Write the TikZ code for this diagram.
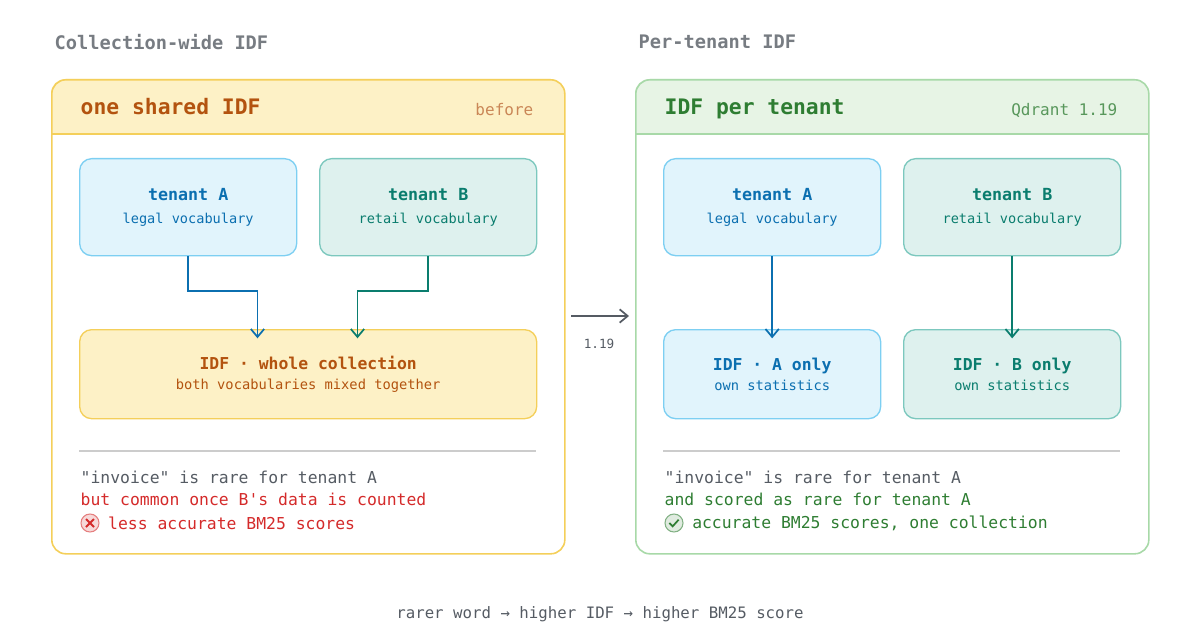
\documentclass[tikz,border=0pt]{standalone}
\usepackage{fontspec}
\setmainfont{DejaVu Sans Mono}[Ligatures=TeXOff]
\usetikzlibrary{positioning, arrows.meta}
\definecolor{yelline}{HTML}{F4CF5A}
\definecolor{yelfill}{HTML}{FDF1C6}
\definecolor{idfbrown}{HTML}{B3530F}
\definecolor{grnline}{HTML}{A8D9A8}
\definecolor{grnfill}{HTML}{E7F4E5}
\definecolor{grntext}{HTML}{2E7D32}
\definecolor{bluline}{HTML}{7DCFF2}
\definecolor{blufill}{HTML}{E1F4FC}
\definecolor{blutext}{HTML}{0B6FB0}
\definecolor{tealline}{HTML}{7CC8BE}
\definecolor{tealfill}{HTML}{DEF1EE}
\definecolor{tealtext}{HTML}{0A7D6E}
\definecolor{graytext}{HTML}{555B63}
\definecolor{redtext}{HTML}{D42A2A}
\tikzset{
    panel/.style = {draw, line width=1.2pt, rounded corners=10.5pt, minimum width=384.75pt, minimum height=355.5pt},
    box/.style = {draw, line width=1pt, rounded corners=9pt, minimum width=162.75pt, minimum height=72.75pt, align=center},
    wide/.style = {box, minimum width=342.75pt, minimum height=66.75pt},
    head/.style = {anchor=base west, font=\fontsize{16}{18}\selectfont\bfseries},
    note/.style = {anchor=west, font=\fontsize{12.3}{14}\selectfont},
    line/.style = {-{Straight Barb[length=6pt, width=10pt]}, line width=1.3pt}
}
\newcommand{\boxtext}[2]{{\fontsize{12.5}{15}\selectfont\bfseries #1}\\[5pt]{\fontsize{10.2}{12}\selectfont #2}}
\newcommand{\idftext}[2]{{\fontsize{12.3}{15}\selectfont\bfseries #1}\\[3pt]{\fontsize{10.3}{12}\selectfont #2}}
\begin{document}
\begin{tikzpicture}[x=0.75pt, y=-0.75pt]
\useasboundingbox (0,0) rectangle (1199,638);

% left panel
\fill[yelfill] (51,134) [rounded corners=10.5pt] -- (51,79) -- (564,79) [sharp corners] -- (564,134) -- cycle;
\node[panel, yelline, anchor=north west] (left) at (51,79) {};
\draw[yelline, line width=1.2pt] (51,134) -- (564,134);
\node[anchor=west, text=graytext!80, font=\fontsize{14}{16}\selectfont\bfseries] (ltitle) at (50,42) {Collection-wide IDF};
\node[head, text=idfbrown] (lhead) at (76,115) {one shared IDF};
\node[anchor=east, text=idfbrown!70, font=\fontsize{12}{14}\selectfont] (lbefore) at (538,110) {before};

\node[box, bluline, fill=blufill, text=blutext, anchor=north west] (la) at (79,158) {\boxtext{tenant A}{legal vocabulary}};
\node[box, tealline, fill=tealfill, text=tealtext, anchor=north west] (lb) at (319,158) {\boxtext{tenant B}{retail vocabulary}};
\node[wide, yelline, fill=yelfill, text=idfbrown, anchor=north west] (whole) at (79,329) {\idftext{IDF · whole collection}{both vocabularies mixed together}};

\draw[line, blutext] (la.south) -- ++(0,35) -| ([shift={(-38pt,-7pt)}]whole.north);
\draw[line, tealtext] (lb.south) -- ++(0,35) -| ([shift={(37pt,-7pt)}]whole.north);

\draw[gray!40, line width=1pt] (79,451) -- (536,451);
\node[note, text=graytext] (l1) at (76,477) {"invoice" is rare for tenant A};
\node[note, text=redtext] (l2) at (76,499) {but common once B's data is counted};
\node[circle, draw=redtext!60, fill=redtext!18, line width=0.8pt, minimum size=13.5pt, inner sep=0pt] (cross) at (90,523) {};
\draw[redtext, line width=1.4pt] ([shift={(-3pt,-3pt)}]cross.center) -- ([shift={(3pt,3pt)}]cross.center)
    ([shift={(-3pt,3pt)}]cross.center) -- ([shift={(3pt,-3pt)}]cross.center);
\node[note, text=redtext, right=3pt of cross] (l3) {less accurate BM25 scores};

% middle
\coordinate (mfrom) at (571,316);
\coordinate (mto) at (629,316);
\draw[line, graytext] (mfrom) -- (mto);
\node[text=graytext, font=\fontsize{9.5}{11}\selectfont] (ver) at (599,344) {1.19};

% right panel
\fill[grnfill] (635,134) [rounded corners=10.5pt] -- (635,79) -- (1148,79) [sharp corners] -- (1148,134) -- cycle;
\node[panel, grnline, anchor=north west] (right) at (635,79) {};
\draw[grnline, line width=1.2pt] (635,134) -- (1148,134);
\node[anchor=west, text=graytext!80, font=\fontsize{14}{16}\selectfont\bfseries] (rtitle) at (634,42) {Per-tenant IDF};
\node[head, text=grntext] (rhead) at (660,115) {IDF per tenant};
\node[anchor=east, text=grntext!80, font=\fontsize{12}{14}\selectfont] (rver) at (1122,110) {Qdrant 1.19};

\node[box, bluline, fill=blufill, text=blutext, anchor=north west] (ra) at (663,158) {\boxtext{tenant A}{legal vocabulary}};
\node[box, tealline, fill=tealfill, text=tealtext, anchor=north west] (rb) at (903,158) {\boxtext{tenant B}{retail vocabulary}};
\node[box, minimum height=66.75pt, bluline, fill=blufill, text=blutext, anchor=north west] (ia) at (663,329) {\idftext{IDF · A only}{own statistics}};
\node[box, minimum height=66.75pt, tealline, fill=tealfill, text=tealtext, anchor=north west] (ib) at (903,329) {\idftext{IDF · B only}{own statistics}};

\draw[line, blutext] (ra) -- ([yshift=-7pt]ia.north);
\draw[line, tealtext] (rb) -- ([yshift=-7pt]ib.north);

\draw[gray!40, line width=1pt] (663,451) -- (1120,451);
\node[note, text=graytext] (r1) at (660,477) {"invoice" is rare for tenant A};
\node[note, text=grntext] (r2) at (660,499) {and scored as rare for tenant A};
\node[circle, draw=grntext!60, fill=grntext!15, line width=0.8pt, minimum size=13.5pt, inner sep=0pt] (check) at (674,523) {};
\draw[grntext, line width=1.3pt] ([shift={(-3.5pt,0pt)}]check.center) -- ([shift={(-1pt,-2.5pt)}]check.center) -- ([shift={(3.5pt,2.5pt)}]check.center);
\node[note, text=grntext, right=3pt of check] (r3) {accurate BM25 scores, one collection};

\node[text=graytext, font=\fontsize{11.8}{14}\selectfont] (caption) at (600,614) {rarer word → higher IDF → higher BM25 score};
\end{tikzpicture}
\end{document}
